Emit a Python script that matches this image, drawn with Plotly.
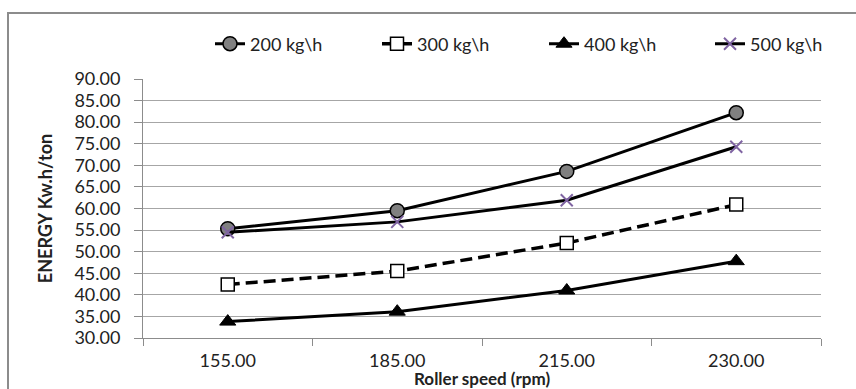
import plotly.graph_objects as go

categories = ["155.00", "185.00", "215.00", "230.00"]
s200 = [55.3, 59.5, 68.6, 82.2]
s300 = [42.4, 45.5, 52.0, 60.9]
s400 = [33.8, 36.1, 41.0, 47.8]
s500 = [54.5, 56.9, 61.9, 74.3]
y_ticks = [30 + 5 * i for i in range(13)]
y_labels = [f"{v:.2f}" for v in y_ticks]

FONT = "Lato"
W, H = 856, 389
L, R, T, B = 143, 35, 79, 51

pw = W - L - R
ph = H - T - B
def px(x):
    return (x - L) / pw
def py(y):
    return (H - B - y) / ph

fig = go.Figure()
fig.add_trace(go.Scatter(x=categories, y=s200, name="200 kg\\h", mode="lines+markers",
                         legend="legend",
                         line=dict(color="black", width=3),
                         marker=dict(symbol="circle", size=14, color="#808080",
                                     line=dict(color="black", width=1.5))))
fig.add_trace(go.Scatter(x=categories, y=s300, name="300 kg\\h", mode="lines+markers",
                         legend="legend2",
                         line=dict(color="black", width=3.5, dash="12px,6px"),
                         marker=dict(symbol="square", size=13, color="white",
                                     line=dict(color="black", width=1.5))))
fig.add_trace(go.Scatter(x=categories, y=s400, name="400 kg\\h", mode="lines+markers",
                         legend="legend3",
                         line=dict(color="black", width=3),
                         marker=dict(symbol="triangle-up", size=14, color="black",
                                     line=dict(color="black", width=1))))
fig.add_trace(go.Scatter(x=categories, y=s500, name="500 kg\\h", mode="lines+markers",
                         legend="legend4",
                         line=dict(color="black", width=3),
                         marker=dict(symbol="x-thin", size=12, color="#7f64a2",
                                     line=dict(color="#7f64a2", width=2))))

fig.add_shape(type="rect", xref="paper", yref="paper",
              x0=px(8), x1=px(875), y0=py(400), y1=py(13),
              line=dict(color="#8c8c8c", width=2), layer="below")

fig.add_annotation(text="<b>Roller speed (rpm)</b>", xref="paper", yref="paper",
                   x=0.5, y=py(378), xanchor="center", yanchor="middle",
                   showarrow=False, font=dict(family=FONT, size=17, color="#222222"))

def leg(xpix):
    return dict(orientation="h", x=px(xpix), xanchor="left", y=py(44), yanchor="middle",
                font=dict(family=FONT, size=18, color="#222222"),
                bgcolor="rgba(0,0,0,0)", itemclick=False, borderwidth=0)

fig.update_layout(
    width=W, height=H,
    margin=dict(l=L, r=R, t=T, b=B),
    paper_bgcolor="white", plot_bgcolor="white",
    font=dict(family=FONT, size=18, color="#222222"),
    showlegend=True,
    legend=leg(210), legend2=leg(377), legend3=leg(544), legend4=leg(710),
    xaxis=dict(type="category", range=[-0.5, 3.5], tickson="boundaries",
               ticks="outside", ticklen=7, tickcolor="#8c8c8c", tickwidth=1,
               showline=True, linecolor="#8c8c8c", linewidth=1, showgrid=False,
               ticklabelstandoff=6, automargin=False),
    yaxis=dict(range=[30, 90], tickvals=y_ticks, ticktext=y_labels,
               ticks="outside", ticklen=8, tickcolor="#8c8c8c", tickwidth=1,
               showline=True, linecolor="#8c8c8c", linewidth=1,
               showgrid=True, gridcolor="#a6a6a6", gridwidth=1, zeroline=False,
               ticklabelstandoff=10, automargin=False,
               title=dict(text="<b>ENERGY Kw.h/ton</b>", font=dict(family=FONT, size=18),
                          standoff=17)),
)

fig.write_html("out.html")
